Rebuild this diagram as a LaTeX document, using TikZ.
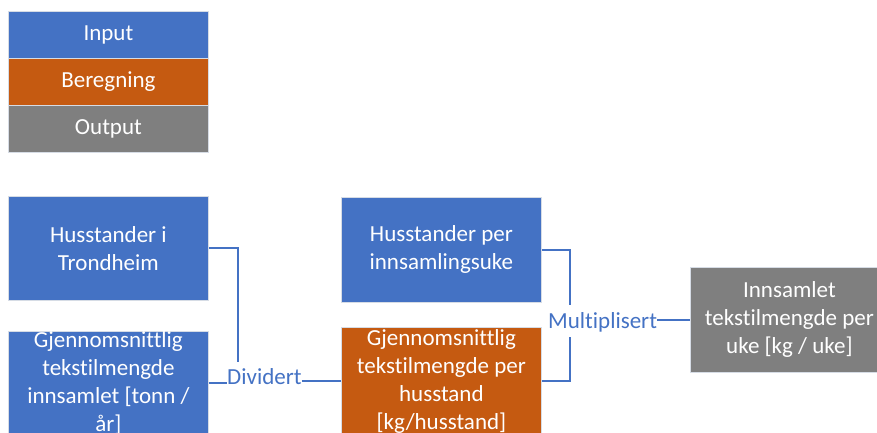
\documentclass[tikz,border=0pt]{standalone}
\usepackage{fontspec}
\setmainfont{Carlito}[Ligatures={NoCommon}]
\definecolor{cblue}{HTML}{4472C4}
\definecolor{corange}{HTML}{C55A11}
\definecolor{cgray}{HTML}{7F7F7F}
\definecolor{cedge}{HTML}{D6DCE5}
\tikzset{
  box/.style={draw=cedge, line width=0.8pt, text=white, align=center, anchor=north west,
    inner sep=0pt, minimum width=200pt, font=\fontsize{23}{28}\selectfont},
  inbox/.style={box, fill=cblue},
  calcbox/.style={box, fill=corange},
  outbox/.style={box, fill=cgray},
  lbl/.style={text=cblue, inner sep=0pt, font=\fontsize{23}{28}\selectfont},
  conn/.style={draw=cblue, line width=2pt}
}
\begin{document}
\begin{tikzpicture}[x=1pt,y=-1pt]
\useasboundingbox[fill=white] (0,0) rectangle (877,432);
% legend
\node[inbox, minimum height=47pt] (leg1) at (8,11) {Input};
\node[calcbox, minimum height=47pt] (leg2) at (8,58) {Beregning};
\node[outbox, minimum height=47pt] (leg3) at (8,105) {Output};
% diagram
\node[inbox, minimum height=104pt] (h1) at (8,196) {Husstander i\\Trondheim};
\node[inbox, minimum height=104pt] (g1) at (8,331) {Gjennomsnittlig\\tekstilmengde\\innsamlet {[}tonn /\\år{]}};
\node[inbox, minimum height=105pt] (h2) at (341,197) {Husstander per\\innsamlingsuke};
\node[calcbox, minimum height=108pt] (g2) at (341,327) {Gjennomsnittlig\\tekstilmengde per\\husstand\\{[}kg/husstand{]}};
\node[outbox, minimum width=198pt, minimum height=105pt] (out) at (690,267) {Innsamlet\\tekstilmengde per\\uke {[}kg / uke{]}};
% labels
\node[lbl, anchor=base west] (div) at (227,384.5) {Dividert};
\node[lbl, anchor=base west] (mul) at (548,328.5) {Multiplisert};
\coordinate (dtop) at (237.5,362);
\coordinate (mtop) at (570,305);
\coordinate (mbot) at (570,337);
% connectors
\draw[conn] (h1.east) -| (dtop);
\draw[conn] (g1.east) -- (g1.east -| div.west);
\draw[conn] (div.east |- g2.west) -- (g2.west);
\draw[conn] (h2.east) -| (mtop);
\draw[conn] (g2.east) -| (mbot);
\draw[conn] (mul.east |- out.west) -- (out.west);
\end{tikzpicture}
\end{document}
